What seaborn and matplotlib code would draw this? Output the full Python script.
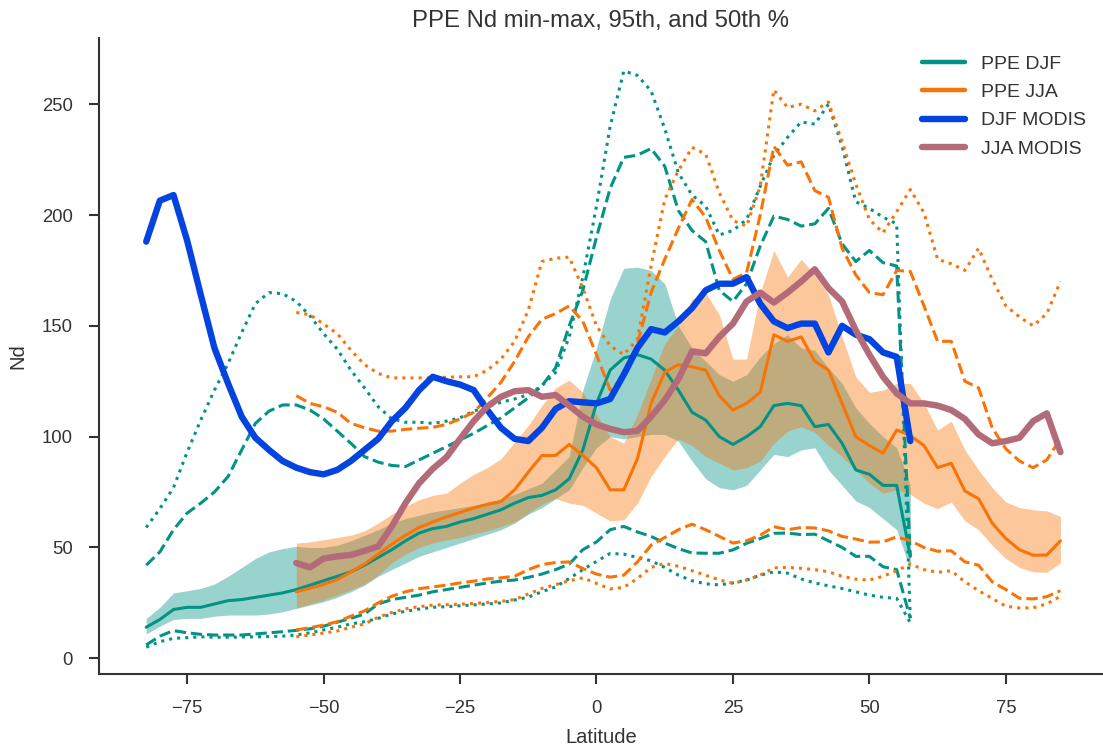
import numpy as np
import matplotlib
matplotlib.use("Agg")
import matplotlib.pyplot as plt
from matplotlib.lines import Line2D
import seaborn as sns

# ---------------- data ----------------
lat_djf = [-82.5, -80, -77.5, -75, -72.5, -70, -67.5, -65, -62.5, -60,
           -57.5, -55, -52.5, -50, -47.5, -45, -42.5, -40, -37.5, -35,
           -32.5, -30, -27.5, -25, -22.5, -20, -17.5, -15, -12.5, -10,
           -7.5, -5, -2.5, 0, 2.5, 5, 7.5, 10, 12.5, 15,
           17.5, 20, 22.5, 25, 27.5, 30, 32.5, 35, 37.5, 40,
           42.5, 45, 47.5, 50, 52.5, 55, 57.5]
lat_jja = [-55, -52.5, -50, -47.5, -45, -42.5, -40, -37.5, -35, -32.5,
           -30, -27.5, -25, -22.5, -20, -17.5, -15, -12.5, -10, -7.5,
           -5, -2.5, 0, 2.5, 5, 7.5, 10, 12.5, 15, 17.5,
           20, 22.5, 25, 27.5, 30, 32.5, 35, 37.5, 40, 42.5,
           45, 47.5, 50, 52.5, 55, 57.5, 60, 62.5, 65, 67.5,
           70, 72.5, 75, 77.5, 80, 82.5, 85]

# PPE DJF
djf_median = [14, 17.5, 22, 23, 23, 24.5, 26, 26.5, 27.5, 28.5,
              29.5, 31, 33, 35, 37, 39, 42, 45.5, 49, 53,
              56.5, 58.5, 59.5, 61.5, 63, 65, 67, 70, 72.5, 73.5,
              76, 81, 94, 115, 130, 135.5, 137, 135, 130, 121,
              111, 107.5, 100, 96.5, 100, 104.5, 114, 115, 114, 104.5,
              105.5, 97, 85, 83, 78, 78, 46]
djf_fill_hi = [18, 23, 29.5, 30.5, 31.5, 33.5, 37, 41, 45, 48,
               49.5, 50.5, 50, 50, 51, 53, 55.5, 58, 61, 63,
               64.5, 66, 67, 68, 69, 70, 72, 74, 76.5, 79,
               85, 91, 121, 140, 162, 176, 176.5, 175, 169, 150,
               140, 134, 128, 125, 128, 136, 142, 146, 140, 139,
               131, 124, 113, 106, 100, 95, 78]
djf_fill_lo = [11, 14.5, 17.5, 18, 18, 19, 19.5, 19.5, 19.5, 20,
               21, 22.5, 24, 25.5, 27.5, 30, 33, 37, 40, 43,
               46, 48, 50, 52, 54, 56, 58, 61, 65, 68,
               72, 76, 86, 95, 100, 99, 100, 101, 101, 98,
               89, 81, 77, 76, 78, 85, 92, 91, 94, 95,
               85, 78, 71, 68, 63, 58, 40]
djf_dash_hi = [42, 48, 58, 65.5, 70, 75, 82, 94, 106, 111.5,
               114.3, 114.3, 112, 108, 102.5, 97, 91, 88.5, 87, 86.5,
               89.5, 92.5, 95.5, 98.5, 101.5, 105, 108.5, 113, 117.5, 123,
               131, 150, 166, 190, 212, 226, 227, 230, 222, 202,
               193, 188, 166, 161, 169, 186, 199.5, 198, 195, 196,
               203, 187, 179, 184, 178.5, 177, 46]
djf_dot_hi = [59, 67.5, 77, 93, 107.5, 121, 133, 147, 160, 165,
              164.5, 161, 154.5, 146.5, 139.5, 130, 122, 113.5, 108, 106.5,
              106.5, 106, 107, 108.5, 111.5, 113.5, 115.5, 117, 119, 123,
              129, 145, 172, 204, 240, 265, 263, 256, 239, 219,
              209, 204, 191, 193, 198, 213, 227, 235, 242, 241,
              250, 231, 206, 203, 199, 196, 17]
djf_dash_lo = [6, 10, 12.5, 11.5, 10.8, 10.5, 10.5, 10.5, 11, 11.5,
               12, 12.6, 13.3, 14.5, 16.3, 18, 20, 24.5, 26.5, 27.5,
               28.5, 30, 31, 32, 33, 34, 34.8, 35.3, 36.5, 38,
               40, 42.5, 49, 52.5, 58, 59.5, 57, 55, 52, 49.5,
               47.5, 47.4, 47.4, 48.9, 51.9, 54, 56.4, 56.5, 55.8, 56,
               53, 50, 46, 46, 41.3, 40, 18]
djf_dot_lo = [5, 7.5, 9, 9.3, 9.7, 9.5, 9.5, 9.6, 9.7, 9.8,
              10, 10.5, 11.5, 12.8, 14, 15.5, 16.5, 18, 20, 21.2,
              22.2, 23, 23.3, 23.7, 24.1, 24.5, 25, 26.3, 27.6, 30,
              32.2, 36, 40, 43.7, 47.3, 47, 45.5, 44, 41, 37.5,
              35, 33.6, 33.1, 34, 35.3, 37.5, 39, 38.4, 35.8, 34,
              32.7, 31.5, 30, 28.5, 27.5, 27, 16]

# PPE JJA
jja_median = [30, 31.6, 33.3, 35.5, 39, 42.5, 47, 51.5, 55.5, 59,
              61.5, 63.8, 65.8, 67.8, 69.5, 70.7, 76, 84, 91.5, 91.5,
              96.5, 91.5, 86, 76, 76, 90, 115, 129, 132.5, 131.5,
              130, 118.5, 112, 115, 120, 146, 143, 145, 134, 130,
              115, 100, 96, 92.5, 103, 100.5, 96, 86, 88, 75.5,
              72, 61, 54, 49, 46.5, 46.6, 53]
jja_fill_hi = [52, 52.5, 53.5, 54.5, 55.5, 57.5, 61, 65, 68.5, 71.5,
               73.5, 74.5, 79, 83, 86, 90, 97.5, 105, 114, 122,
               125.5, 120, 110, 100, 97, 110, 126, 142, 150, 162,
               165, 155, 135, 135, 165, 184, 172, 180, 173, 164,
               145, 127, 120, 121, 124, 124, 115, 103, 107, 94,
               85, 77, 70.5, 68, 67, 66.5, 64]
jja_fill_lo = [22.6, 24.5, 26.3, 28.5, 31, 33.4, 37.5, 43, 47, 50,
               52, 53.4, 54.5, 56, 57.5, 59.5, 61.5, 65.5, 69.5, 72,
               70, 69, 65.5, 62, 62.5, 70, 82, 91, 99, 96,
               91, 88, 85, 86, 89, 97, 102.5, 104.5, 102, 96,
               91, 85, 79, 74.5, 76, 74, 70, 67.5, 70.5, 62,
               58, 51, 45, 41, 39, 38.8, 43]
jja_dash_hi = [118.5, 115, 113.5, 111, 106, 104, 102.5, 102.5, 103.3, 103.8,
               104.2, 105.5, 108, 111, 117.5, 124.5, 134, 145, 153, 155.5,
               159, 152, 137, 121, 127, 142, 165, 180, 194, 207,
               199, 184, 171, 174, 200, 231, 222.5, 224, 211, 208,
               185, 173, 165, 164, 175, 174.5, 159, 143, 143, 125,
               122, 104, 94.5, 89, 86, 89.5, 99]
jja_dot_hi = [156, 155, 150.8, 146.5, 139, 132.5, 128.5, 126.5, 126.5, 126.5,
              126.5, 126.8, 127, 127, 130, 135, 143, 157, 179, 180.5,
              181, 167, 150, 141, 137, 144, 177, 207, 220, 230.5,
              227.5, 210, 197.5, 195, 213, 256.5, 248.5, 250, 247, 251,
              233, 214, 198, 192, 201.5, 211.5, 201, 180, 178, 175,
              185, 171, 159, 154, 150, 155.5, 170]
jja_dash_lo = [12.8, 13.8, 15, 16.5, 19, 21.4, 25, 28, 30, 31.4,
               32.2, 33, 34, 34.8, 35.8, 36.3, 37, 40, 42.3, 43.2,
               43.5, 40.5, 38, 36.6, 37.5, 43.5, 51, 54.5, 58, 60.5,
               58, 55, 52, 53, 55.5, 59.4, 58, 59, 58.8, 57.5,
               55, 53.8, 52.4, 52.5, 54.8, 53, 50, 48.3, 48.5, 43.5,
               42, 34.5, 31, 27.1, 26.8, 27.8, 30.5]
jja_dot_lo = [9.7, 10.5, 11.4, 12.3, 14, 15.5, 18.5, 20.7, 22.3, 23.3,
              24, 24.2, 24.4, 24.7, 25.2, 25.7, 26.5, 29, 31.5, 33.2,
              35, 36.3, 33.8, 31.3, 32, 36, 41, 42.8, 41.5, 39.5,
              37.5, 35.4, 33.8, 35.3, 37.5, 40.8, 41, 40.6, 40, 39,
              37, 35.7, 35.3, 37, 39.5, 42.5, 40, 38.8, 39.5, 34.5,
              30.5, 27, 23.5, 22.7, 22.8, 24.5, 28]

# MODIS observations
djf_modis = [188, 206.5, 209, 188.5, 164, 140, 124, 109, 99.5, 94,
             89, 86, 84, 83, 85, 89, 94, 99, 107, 113,
             121, 127, 125, 123.5, 121, 112, 104, 99, 98, 104,
             112.5, 116, 115.5, 115, 117, 128, 140, 148.5, 147, 152,
             158, 166, 169, 169, 172, 160, 152, 149, 151, 151,
             138, 150, 146, 144, 138, 136, 98]
jja_modis = [43, 41, 45, 46, 46.6, 48.5, 50.5, 59.5, 70, 79,
             85.5, 90.7, 99, 107, 113.6, 118, 120.5, 121, 118, 118.8,
             114, 109, 105.5, 103.5, 102, 102.6, 109, 116.5, 126, 138.5,
             137.6, 145, 151, 161, 165, 160.5, 165, 170, 175.5, 167,
             161, 148, 137, 127, 119.5, 115, 115, 114, 112, 108,
             101, 97, 98, 99.5, 107, 110.5, 93]

legend_labels = ["PPE DJF", "PPE JJA", "DJF MODIS", "JJA MODIS"]

# ---------------- style ----------------
sns.set_style("ticks")
plt.rcParams['font.family'] = ['Liberation Sans', 'DejaVu Sans']

C_DJF = "#029386"
C_JJA = "#f97306"
C_DJF_MODIS = "#0343df"
C_JJA_MODIS = "#b36b7a"
TXT = "#333333"

fig = plt.figure(figsize=(11.03, 7.51), dpi=100)
ax = fig.add_axes([0.0895, 0.1022, 0.9105, 0.8476])

# shaded ranges
ax.fill_between(lat_djf, djf_fill_lo, djf_fill_hi, color=C_DJF, alpha=0.4, linewidth=0)
ax.fill_between(lat_jja, jja_fill_lo, jja_fill_hi, color=C_JJA, alpha=0.4, linewidth=0)

LW = 2.2
for lat, series, col in [(lat_djf, [djf_dot_hi, djf_dash_hi, djf_median, djf_dash_lo, djf_dot_lo], C_DJF),
                         (lat_jja, [jja_dot_hi, jja_dash_hi, jja_median, jja_dash_lo, jja_dot_lo], C_JJA)]:
    styles = [":", "--", "-", "--", ":"]
    for s, ls in zip(series, styles):
        sns.lineplot(x=lat, y=s, ax=ax, color=col, linestyle=ls, linewidth=LW,
                     estimator=None, sort=False)

sns.lineplot(x=lat_djf, y=djf_modis, ax=ax, color=C_DJF_MODIS, linewidth=4.6,
             estimator=None, sort=False)
sns.lineplot(x=lat_jja, y=jja_modis, ax=ax, color=C_JJA_MODIS, linewidth=4.6,
             estimator=None, sort=False)

ax.set_xlim(-91.2, 92.8)
ax.set_ylim(-7.2, 280)
ax.set_xticks([-75, -50, -25, 0, 25, 50, 75])
ax.set_yticks([0, 50, 100, 150, 200, 250])
ax.tick_params(axis="both", labelsize=13.3, length=7.3, width=1.5, colors=TXT,
               labelcolor=TXT, pad=11.5)
for sp in ["left", "bottom"]:
    ax.spines[sp].set_linewidth(1.5)
    ax.spines[sp].set_color(TXT)
sns.despine(ax=ax)

ax.set_xlabel("Latitude", fontsize=14.5, color=TXT, labelpad=8)
ax.set_ylabel("Nd", fontsize=14.5, color=TXT, labelpad=10)
ax.set_title("PPE Nd min-max, 95th, and 50th %", fontsize=17.2, color=TXT, pad=8)

handles = [Line2D([0], [0], color=C_DJF, lw=3.2),
           Line2D([0], [0], color=C_JJA, lw=3.2),
           Line2D([0], [0], color=C_DJF_MODIS, lw=4.6),
           Line2D([0], [0], color=C_JJA_MODIS, lw=4.6)]
leg = ax.legend(handles, legend_labels, loc="upper right", frameon=False,
                fontsize=14, handlelength=2.2, labelspacing=0.55)
for t in leg.get_texts():
    t.set_color(TXT)

fig.savefig("out.png", dpi=100)
